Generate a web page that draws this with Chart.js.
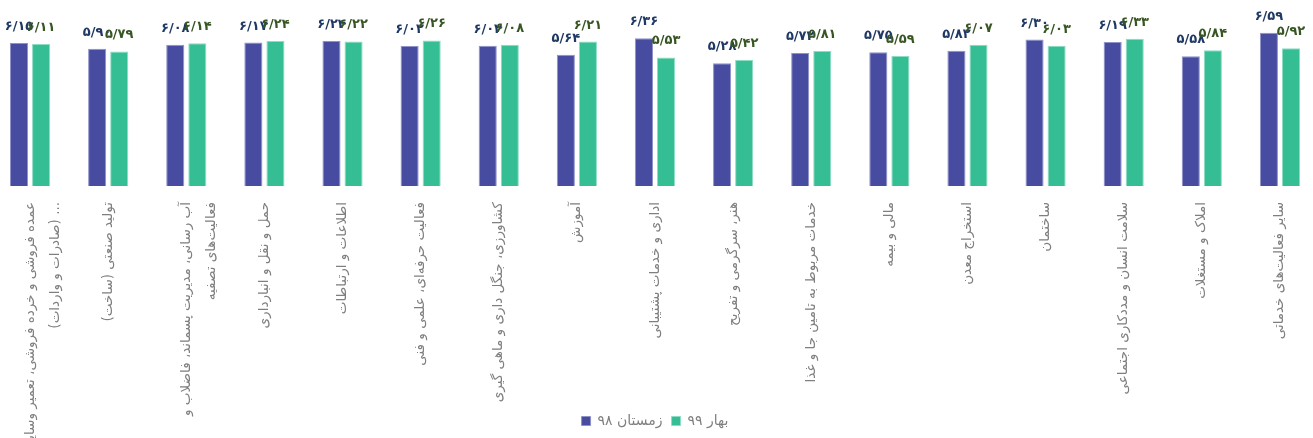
<!DOCTYPE html>
<html lang="fa">
<head>
<meta charset="utf-8">
<script src="https://cdn.jsdelivr.net/npm/chart.js@4/dist/chart.umd.min.js"></script>
<style>
  body { margin: 0; background: #fff; overflow: hidden; }
  .chartbox { position: absolute; left: -9px; top: 0; width: 1328px; height: 438px; }
</style>
</head>
<body>
<div class="chartbox"><canvas id="chart" dir="rtl"></canvas></div>
<script>
let labels = [
    ['عمده فروشی و خرده فروشی، تعمیر وسایل و', '... (صادرات و واردات)'],
    'تولید صنعتی (ساخت)',
    ['آب رسانی، مدیریت پسماند، فاضلاب و', 'فعالیت‌های تصفیه'],
    'حمل و نقل و انبارداری',
    'اطلاعات و ارتباطات',
    'فعالیت حرفه‌ای، علمی و فنی',
    'کشاورزی، جنگل داری و ماهی گیری',
    'آموزش',
    'اداری و خدمات پشتیبانی',
    'هنر، سرگرمی و تفریح',
    'خدمات مربوط به تامین جا و غذا',
    'مالی و بیمه',
    'استخراج معدن',
    'ساختمان',
    'سلامت انسان و مددکاری اجتماعی',
    'املاک و مستغلات',
    'سایر فعالیت‌های خدماتی'
]
let winter98 = [6.15, 5.90, 6.08, 6.17, 6.24, 6.02, 6.03, 5.64, 6.36, 5.28, 5.72, 5.75, 5.82, 6.30, 6.19, 5.58, 6.59]
let spring99 = [6.11, 5.79, 6.14, 6.24, 6.22, 6.26, 6.08, 6.21, 5.53, 5.42, 5.81, 5.59, 6.07, 6.03, 6.33, 5.84, 5.92]

const faDigits = '۰۱۲۳۴۵۶۷۸۹'
function toFa(v) {
    return v.toFixed(2).replace('.', '/').replace(/[0-9]/g, d => faDigits[d])
}

const labelColors = ['#1f3864', '#375623']

// اعداد بالای ستون‌ها
const valueLabels = {
    id: 'valueLabels',
    afterLayout(chart) {
        // برچسب‌های بلند محور افقی بریده نشوند
        chart.scales.x._computeLabelArea = () => undefined
    },
    afterDatasetsDraw(chart) {
        const ctx = chart.ctx
        chart.data.datasets.forEach((ds, i) => {
            const meta = chart.getDatasetMeta(i)
            ctx.save()
            ctx.font = 'bold 13px "DejaVu Sans"'
            ctx.fillStyle = labelColors[i]
            ctx.textAlign = 'center'
            ctx.textBaseline = 'alphabetic'
            meta.data.forEach((bar, j) => {
                ctx.fillText(toFa(ds.data[j]), bar.x, bar.y - 13)
            })
            ctx.restore()
        })
    }
}

const chart = new Chart(document.getElementById('chart'), {
    type: 'bar',
    data: {
        labels: labels,
        datasets: [{
            label: 'زمستان ۹۸',
            backgroundColor: '#474ca1',
            borderColor: '#8e92c9',
            borderWidth: 1,
            data: winter98
        }, {
            label: 'بهار ۹۹',
            backgroundColor: '#35bd93',
            borderColor: '#8fdcc4',
            borderWidth: 1,
            data: spring99
        }]
    },
    options: {
        responsive: true,
        maintainAspectRatio: false,
        animation: false,
        categoryPercentage: 0.565,
        barPercentage: 0.82,
        layout: { padding: { top: 0, bottom: 0 } },
        plugins: {
            tooltip: { enabled: false },
            legend: {
                position: 'bottom',
                labels: {
                    boxWidth: 9,
                    boxHeight: 9,
                    padding: 9,
                    color: '#7f7f7f',
                    font: { family: '"DejaVu Sans"', size: 14 }
                }
            }
        },
        scales: {
            x: {
                grid: { display: false },
                border: { display: false },
                ticks: {
                    autoSkip: false,
                    minRotation: 90,
                    maxRotation: 90,
                    padding: 8,
                    color: '#7f7f7f',
                    font: { family: '"DejaVu Sans"', size: 13.5, lineHeight: 1.9 }
                }
            },
            y: {
                display: false,
                min: 0,
                max: 8
            }
        }
    },
    plugins: [valueLabels]
})
</script>
</body>
</html>
